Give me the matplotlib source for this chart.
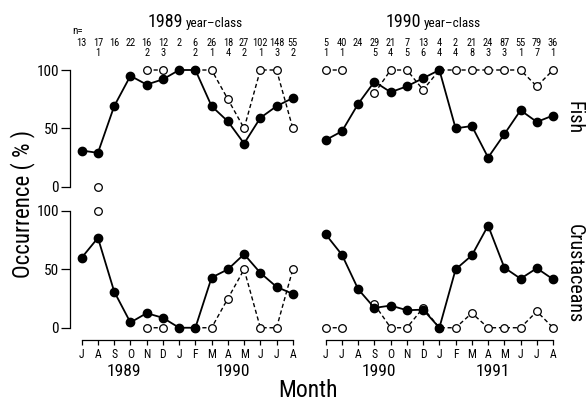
import numpy as np
import matplotlib
matplotlib.use('Agg')
import matplotlib.pyplot as plt

plt.rcParams['font.family'] = ['Roboto Condensed', 'DejaVu Sans']
plt.rcParams['font.stretch'] = 'condensed'

nan = np.nan

# month axis for each year-class
months_89 = ['J', 'A', 'S', 'O', 'N', 'D', 'J', 'F', 'M', 'A', 'M', 'J', 'J', 'A']
months_90 = ['J', 'J', 'A', 'S', 'O', 'N', 'D', 'J', 'F', 'M', 'A', 'M', 'J', 'J', 'A']
years_89 = ['1989', '1990']
years_90 = ['1990', '1991']
year_pos_89 = [2.6, 9.3]
year_pos_90 = [3.25, 10.3]

# sample sizes (young-of-year / older fish)
n_89 = [13, 17, 16, 22, 16, 12, 2, 6, 26, 18, 27, 102, 148, 55]
n_89_old = [None, 1, None, None, 2, 3, None, 2, 1, 4, 2, 1, 3, 2]
n_90 = [5, 40, 24, 29, 21, 7, 13, 4, 2, 21, 24, 87, 55, 79, 36]
n_90_old = [1, 1, None, 5, 4, 5, 6, 4, 4, 8, 3, 3, 1, 7, 1]

# occurrence (%) of fish prey
fish_89 = [31, 29, 69, 95, 87.5, 92, 100, 100, 69, 56, 37, 59, 69, 76]
fish_89_old = [nan, 0, nan, nan, 100, 100, nan, 100, 100, 75, 50, 100, 100, 50]
fish_90 = [40, 47.5, 71, 90, 81, 86, 93, 100, 50, 52, 25, 45, 65.5, 55.5, 61]
fish_90_old = [100, 100, nan, 80, 100, 100, 83, 100, 100, 100, 100, 100, 100, 86, 100]

# occurrence (%) of crustacean prey
crus_89 = [60, 77, 31, 4.5, 12.5, 8.5, 0, 0, 43, 50, 63, 47, 35, 29]
crus_89_old = [nan, 100, nan, nan, 0, 0, nan, 0, 0, 25, 50, 0, 0, 50]
crus_90 = [80, 62.5, 33, 17, 19, 15, 15.5, 0, 50, 62, 87.5, 51.5, 42, 51, 41.5]
crus_90_old = [0, 0, nan, 20, 0, 0, 17, 0, 0, 12.5, 0, 0, 0, 14, 0]

W, H = 587, 403
fig = plt.figure(figsize=(W / 100, H / 100), dpi=100)
fig.patch.set_facecolor('white')

step = 16.24  # px per month


def box(x0, x1, ytop, ybot):
    return [x0 / W, 1 - ybot / H, (x1 - x0) / W, (ybot - ytop) / H]


def xl(x0, x1, origin):
    return ((x0 - origin) / step, (x1 - origin) / step)


ax_f1 = fig.add_axes(box(70, 305, 70, 186.7))
ax_f2 = fig.add_axes(box(310, 565, 70, 186.7))
ax_c1 = fig.add_axes(box(70, 305, 211, 340))
ax_c2 = fig.add_axes(box(310, 565, 211, 340))

ax_f1.set_xlim(*xl(70, 305, 81.7))
ax_c1.set_xlim(*xl(70, 305, 81.7))
ax_f2.set_xlim(*xl(310, 565, 325.7))
ax_c2.set_xlim(*xl(310, 565, 325.7))
for a in (ax_f1, ax_f2):
    a.set_ylim(0, 100)
for a in (ax_c1, ax_c2):
    a.set_ylim(-10.5, 100)

for a in (ax_f1, ax_f2, ax_c1, ax_c2):
    for s in a.spines.values():
        s.set_visible(False)
        s.set_linewidth(0.9)
    a.set_facecolor('none')
    a.tick_params(which='both', length=0)
    a.set_xticks([])
    a.set_yticks([])


def series(a, y, y_old):
    x = np.arange(len(y))
    a.plot(x, y_old, '--', color='black', lw=1.0, dashes=(3, 2),
           marker='o', ms=5.5, mfc='white', mec='black', mew=0.9,
           clip_on=False, zorder=2)
    a.plot(x, y, '-', color='black', lw=1.3,
           marker='o', ms=6, mfc='black', mec='black',
           clip_on=False, zorder=3)


series(ax_f1, fish_89, fish_89_old)
series(ax_f2, fish_90, fish_90_old)
series(ax_c1, crus_89, crus_89_old)
series(ax_c2, crus_90, crus_90_old)

# y axes on the left
for a in (ax_f1, ax_c1):
    a.spines['left'].set_visible(True)
    a.spines['left'].set_bounds(0, 100)
    a.set_yticks([0, 50, 100])
    a.set_yticklabels(['0', '50', '100'], fontsize=11)
    a.tick_params(axis='y', direction='out', length=6.5, width=0.9, pad=1.5)

# month axes at the bottom
for a, months, years, ypos in ((ax_c1, months_89, years_89, year_pos_89),
                               (ax_c2, months_90, years_90, year_pos_90)):
    a.spines['bottom'].set_visible(True)
    a.spines['bottom'].set_bounds(0, len(months) - 1)
    a.set_xticks(np.arange(len(months)))
    a.set_xticklabels(months, fontsize=8.5)
    a.tick_params(axis='x', direction='out', length=3.6, width=0.9, pad=2.5)
    for yr, p in zip(years, ypos):
        a.text(p, -0.248, yr, transform=a.get_xaxis_transform(),
               ha='center', va='center', fontsize=12.5)

# sample sizes above the fish panel
for a, n, n_old in ((ax_f1, n_89, n_89_old), (ax_f2, n_90, n_90_old)):
    tr = a.get_xaxis_transform()
    for i, (v, w) in enumerate(zip(n, n_old)):
        a.text(i, 1.231, str(v), transform=tr, ha='center', va='center',
               fontsize=7.5)
        if w is not None:
            a.text(i, 1.146, str(w), transform=tr, ha='center', va='center',
                   fontsize=7.5)

ax_f1.text(-0.6, 1.338, 'n=', transform=ax_f1.get_xaxis_transform(),
           ha='left', va='center', fontsize=8)

ax_f1.text(6.27, 1.371, '1989', transform=ax_f1.get_xaxis_transform(),
           ha='right', va='baseline', fontsize=13)
ax_f1.text(6.4, 1.371, 'year\u2013class', transform=ax_f1.get_xaxis_transform(),
           ha='left', va='baseline', fontsize=9.5)
ax_f2.text(5.9, 1.371, '1990', transform=ax_f2.get_xaxis_transform(),
           ha='right', va='baseline', fontsize=13)
ax_f2.text(6.03, 1.371, 'year\u2013class', transform=ax_f2.get_xaxis_transform(),
           ha='left', va='baseline', fontsize=9.5)

fig.text(23 / W, 1 - 204 / H, 'Occurrence ( % )', rotation=90,
         ha='center', va='center', fontsize=16.5)
fig.text(308 / W, 1 - 397 / H, 'Month', ha='center', va='baseline',
         fontsize=17)
fig.text(574 / W, 1 - 118 / H, 'Fish', rotation=-90,
         ha='center', va='center', fontsize=14.5)
fig.text(574 / W, 1 - 274 / H, 'Crustaceans', rotation=-90,
         ha='center', va='center', fontsize=14.5)

fig.savefig('out.png', dpi=100)
